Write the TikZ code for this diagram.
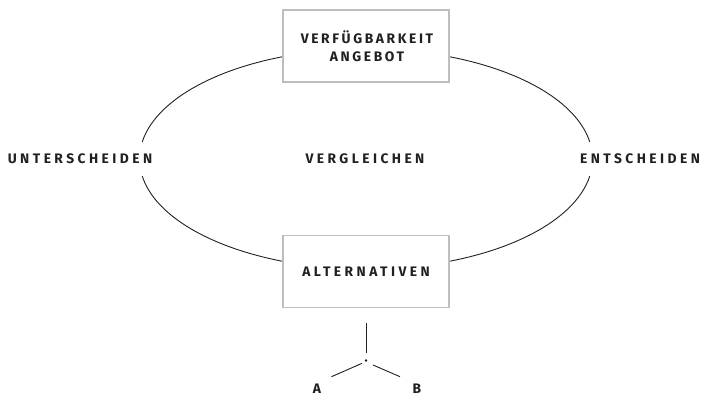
\documentclass[tikz,border=0pt]{standalone}
\usepackage{fontspec}
\setmainfont{Fira Sans}[LetterSpace=25]
\newfontfamily\tightfont{Fira Sans}[LetterSpace=19]
\definecolor{ink}{RGB}{35,31,32}
\definecolor{boxgray}{RGB}{190,190,190}
\begin{document}
\begin{tikzpicture}[x=1pt,y=-1pt,
  lbl/.style={font=\fontsize{13.8}{18}\selectfont\bfseries, text=ink, inner sep=0pt, align=center},
  toplbl/.style={lbl, font=\tightfont\fontsize{13.8}{18}\selectfont\bfseries},
  card/.style={draw=boxgray, line width=1.3pt, fill=white, minimum width=166pt, minimum height=72pt},
  conn/.style={draw=ink, line width=0.9pt}]
\useasboundingbox (0,0) rectangle (702,396);
% ellipse arcs
\draw[conn] (366,159) ++(9:226.5 and -110) arc[start angle=9, end angle=171, x radius=226.5, y radius=-110];
\draw[conn] (366,159) ++(189:226.5 and -110) arc[start angle=189, end angle=351, x radius=226.5, y radius=-110];
\node[card] (top) at (366,46) {};
\node[card] (bot) at (366,271.5) {};
\node[toplbl] (vt) at (367,46) {VERFÜGBARKEIT\\ANGEBOT};
\node[lbl] (alt) at (366,272) {ALTERNATIVEN};
\node[lbl] (unt) at (80,159) {UNTERSCHEIDEN};
\node[lbl] (verg) at (365,159) {VERGLEICHEN};
\node[lbl] (ent) at (640,159) {ENTSCHEIDEN};
\coordinate (s1) at (366,323);
\coordinate (s2) at (366,353);
\node[circle, fill=ink, inner sep=0pt, minimum size=2.8pt] (dot) at (366,360.5) {};
\coordinate (l1) at (362,363.3);
\coordinate (l2) at (331.5,376.7);
\coordinate (r1) at (373,365);
\coordinate (r2) at (400,376.7);
\draw[conn] (s1) -- (s2);
\draw[conn] (l1) -- (l2);
\draw[conn] (r1) -- (r2);
\node[lbl] (a) at (317,388.5) {A};
\node[lbl] (b) at (417,388.5) {B};
\end{tikzpicture}
\end{document}
